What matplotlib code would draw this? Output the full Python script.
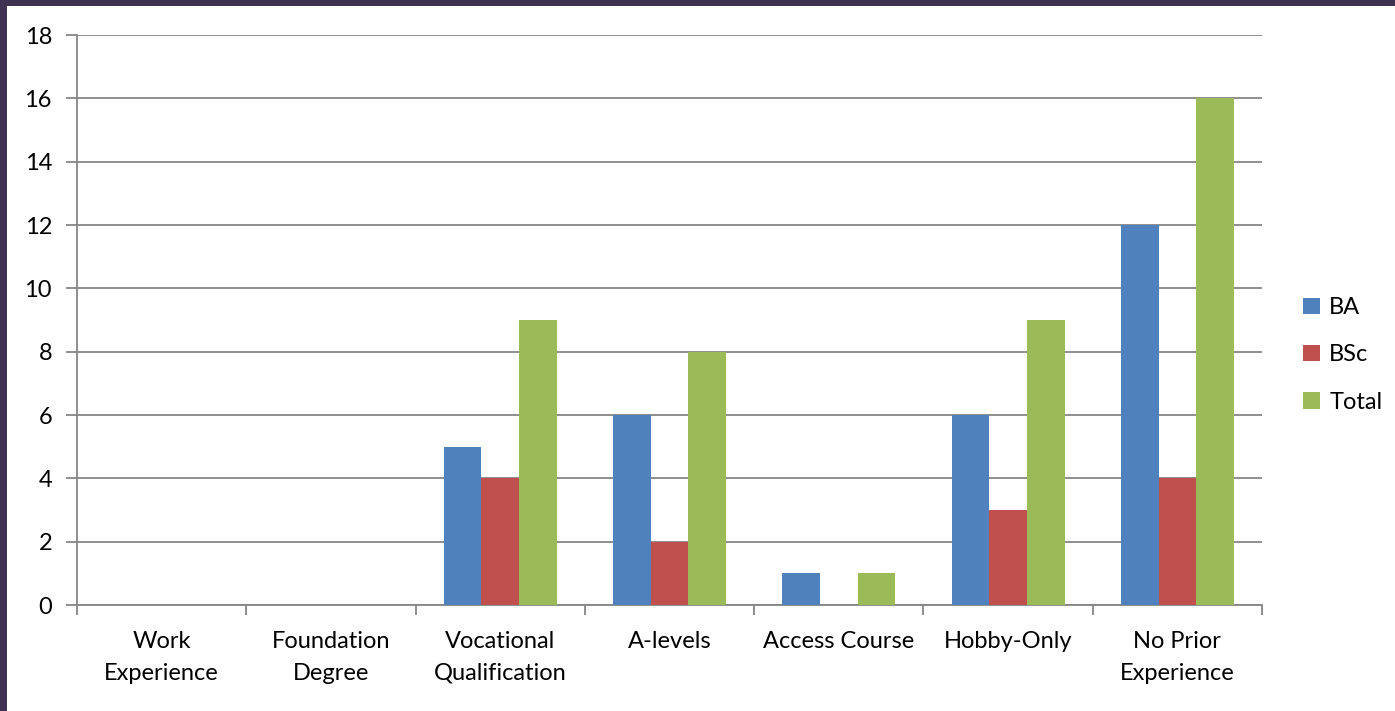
import matplotlib.pyplot as plt
import numpy as np
from matplotlib.patches import Rectangle

plt.rcParams['font.family'] = ['Lato', 'DejaVu Sans']

categories = ["Work\nExperience", "Foundation\nDegree", "Vocational\nQualification",
              "A-levels", "Access Course", "Hobby-Only", "No Prior\nExperience"]
ba = [0, 0, 5, 6, 1, 6, 12]
bsc = [0, 0, 4, 2, 0, 3, 4]
total = [0, 0, 9, 8, 1, 9, 16]
series = [("BA", ba, "#4F81BD"), ("BSc", bsc, "#C0504D"), ("Total", total, "#9BBB59")]

grid_col = "#868686"

fig = plt.figure(figsize=(13.95, 7.11), dpi=100)
fig.patch.set_facecolor("#3F3151")
fig.patches.append(Rectangle((7 / 1395, 0), 1, 1 - 6 / 711, transform=fig.transFigure,
                             facecolor="white", edgecolor="none", zorder=-10))

ax = fig.add_axes([77 / 1395, 1 - 605 / 711, 1185 / 1395, 570 / 711])
ax.set_facecolor("none")

x = np.arange(len(categories))
w = 1 / 4.5
for i, (name, vals, col) in enumerate(series):
    ax.bar(x + (i - 1) * w, vals, width=w, color=col, label=name, zorder=3,
           edgecolor="none")

ax.set_xlim(-0.5, len(categories) - 0.5)
ax.set_ylim(0, 18)
ax.set_yticks(np.arange(0, 19, 2))
ax.yaxis.grid(True, color=grid_col, linewidth=1.3, zorder=0)
ax.set_axisbelow(True)

ax.set_xticks(x)
ax.set_xticklabels(categories, fontsize=17, linespacing=1.6)
ax.set_xticks(np.arange(-0.5, len(categories)), minor=True)
ax.tick_params(axis="x", which="major", length=0, pad=19)
ax.tick_params(axis="x", which="minor", length=7, width=1.3, color=grid_col)
ax.tick_params(axis="y", length=8, width=1.3, color=grid_col, labelsize=17, pad=10)

for s in ["top", "right"]:
    ax.spines[s].set_visible(False)
for s in ["left", "bottom"]:
    ax.spines[s].set_color(grid_col)
    ax.spines[s].set_linewidth(1.3)

ax.legend(loc="center left", bbox_to_anchor=(1.017, 0.4386), frameon=False, fontsize=17,
          handlelength=0.7, handleheight=0.7, handletextpad=0.4, labelspacing=1.12)

fig.savefig("out.png", dpi=100, facecolor=fig.get_facecolor())
